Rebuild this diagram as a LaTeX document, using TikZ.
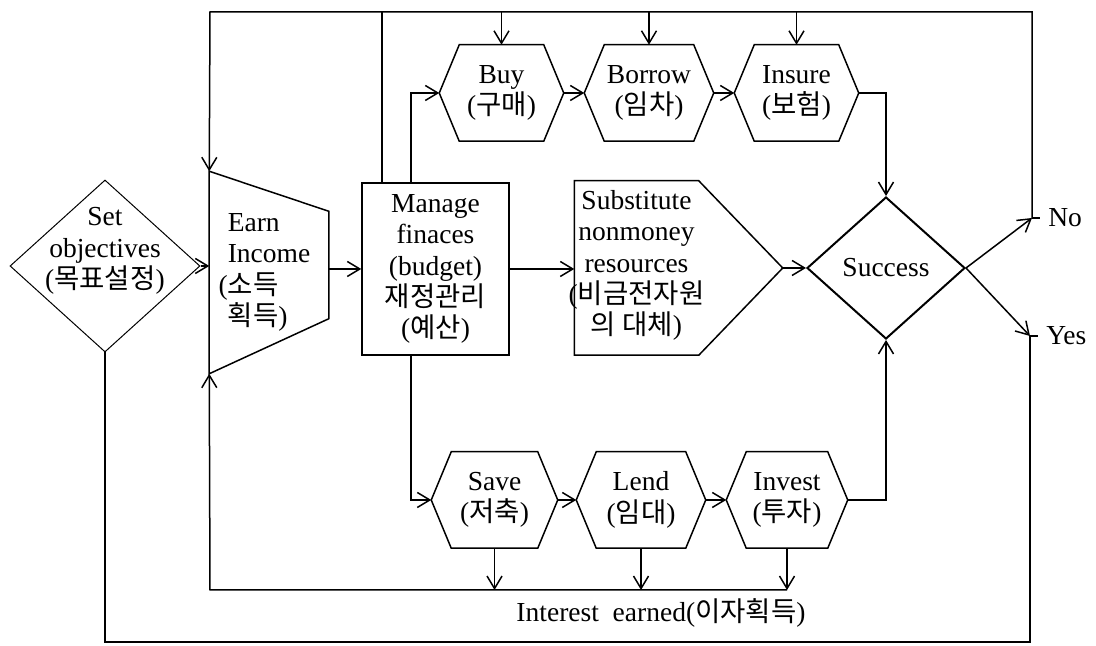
\documentclass[tikz,border=0pt]{standalone}
\usepackage{fontspec}
\setmainfont{Liberation Serif}
\newfontfamily\krfont{Noto Sans CJK KR}
\newcommand{\kor}[1]{{\krfont #1}}
\usepackage{tikz}
\usetikzlibrary{shapes.geometric,arrows.meta}

\begin{document}
\begin{tikzpicture}[x=0.4pt,y=-0.4pt,line width=0.6pt,>={Straight Barb[length=5pt,width=6pt]},
  every node/.style={font=\fontsize{11}{12.5}\selectfont,align=center,inner sep=0pt},
  hexa/.style={minimum height=38pt,minimum width=#1},
  decide/.style={diamond,draw}]
  \useasboundingbox (0,0) rectangle (1096,646);

  \node[decide,line width=0.4pt,minimum width=76pt,minimum height=68.8pt,
    label={[yshift=6pt]center:Set\\objectives\\(\kor{목표설정})}] (obj) at (105,266) {};
  \node[minimum width=47.2pt,minimum height=80.4pt,align=left] (earn) at (269,272.5)
    {Earn\\Income\\\llap{(}\kor{소득}\\\kor{획득})};
  \node[draw,minimum width=58.8pt,minimum height=68.8pt] (mng) at (435.5,269)
    {Manage\\finaces\\(budget)\\\kor{재정관리}\\(\kor{예산})};
  \node[minimum width=49.2pt,minimum height=69.2pt,
    label={[yshift=1pt]center:Substitute\\nonmoney\\resources\\(\kor{비금전자원}\\\kor{의 대체})}] (sub) at (636.5,268) {};
  \coordinate (subtip) at ([shift={(84,0)}]sub.east);
  \node[decide,line width=0.8pt,minimum width=63.2pt,minimum height=56.8pt] (suc) at (886,268) {Success};

  \node[hexa=49.2pt] (buy) at (501.5,93) {Buy\\(\kor{구매})};
  \node[hexa=51.2pt] (brw) at (649,93) {Borrow\\(\kor{임차})};
  \node[hexa=49.2pt] (ins) at (796.5,93) {Insure\\(\kor{보험})};
  \node[hexa=50pt] (sav) at (494.5,500) {Save\\(\kor{저축})};
  \node[hexa=51.2pt] (lnd) at (641,500) {Lend\\(\kor{임대})};
  \node[hexa=48pt] (inv) at (787,500) {Invest\\(\kor{투자})};
  \foreach \n in {buy,brw,ins,sav,lnd,inv}
    \draw (\n.west) -- ([shift={(20,0)}]\n.north west) -- ([shift={(-20,0)}]\n.north east)
      -- (\n.east) -- ([shift={(-20,0)}]\n.south east) -- ([shift={(20,0)}]\n.south west) -- cycle;
  \draw (earn.north west) -- ([shift={(0,40)}]earn.north east) -- ([shift={(0,-55)}]earn.south east)
    -- (earn.south west) -- cycle;
  \draw (sub.north east) -- (sub.north west) -- (sub.south west) -- (sub.south east) -- (subtip) -- cycle;

  \coordinate (tl) at (210,12);
  \coordinate (no) at (1032,218);
  \coordinate (yes) at (1030,336);
  \coordinate (bl) at (210,590);
  \coordinate (bb) at (1030,642);
  \coordinate (m1) at ([shift={(21,0)}]mng.north west);
  \coordinate (m2) at ([shift={(50,0)}]mng.north west);
  \coordinate (m3) at ([shift={(50,0)}]mng.south west);

  \draw[->] (obj.east) -- (obj.east -| earn.west);
  \draw[->] (mng.west -| earn.east) -- (mng.west);
  \draw[->] (mng.east) -- (mng.east -| sub.west);
  \draw[->] (subtip) -- (suc.west);
  \draw[->] (m2) |- (buy.west);
  \draw[->] (m3) |- (sav.west);
  \draw (m1) -- (m1 |- tl);
  \foreach \a/\b in {buy/brw,brw/ins,sav/lnd,lnd/inv}
    \draw[->] (\a.east) -- (\b.west);
  \foreach \n in {buy,brw,ins}
    \draw[->] (\n.north |- tl) -- (\n.north);
  \foreach \n in {sav,lnd,inv}
    \draw[->] (\n.south) -- (\n.south |- bl);
  \draw[->] (ins.east) -| (suc.north);
  \draw[->] (inv.east) -| (suc.south);
  \draw[->] (suc.east) -- (no);
  \draw[->] (suc.east) -- (yes);
  \draw[->] (no) |- (tl) -- (earn.north west);
  \draw[->] (inv.south |- bl) -- (bl) -- (earn.south west);
  \draw (obj.south) |- (bb) -- (yes);
  \draw (no) -- ++(8,0) node[right=3pt] (nol) {No};
  \draw (yes) -- ++(8,0) node[right=3pt] (yesl) {Yes};
  \node (intr) at (661,613) {Interest\ \ earned(\kor{이자획득})};
\end{tikzpicture}
\end{document}
